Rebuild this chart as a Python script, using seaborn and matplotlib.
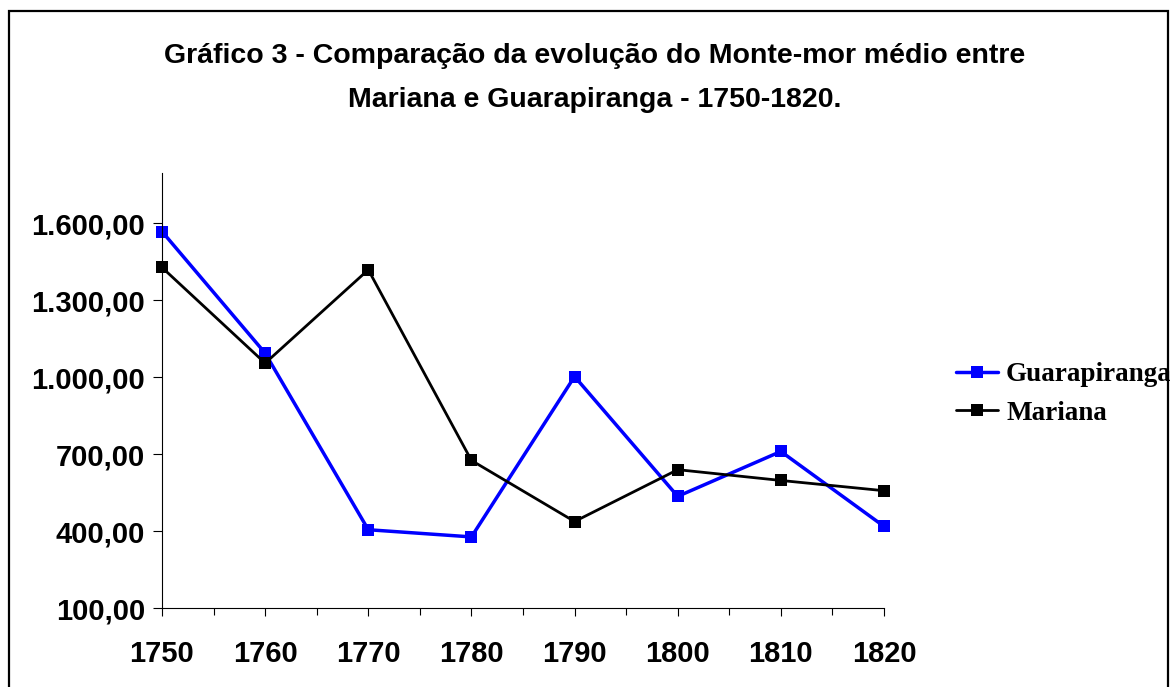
import pandas as pd
import numpy as np
import matplotlib
matplotlib.use("Agg")
import matplotlib.pyplot as plt
import matplotlib.ticker as mticker
from matplotlib.patches import Rectangle
import seaborn as sns

# data
anos = [1750, 1760, 1770, 1780, 1790, 1800, 1810, 1820]
guarapiranga = [1567, 1093, 405, 377, 1002, 535, 710, 418]
mariana = [1427, 1054, 1418, 675, 437, 639, 597, 557]
series = ["Guarapiranga", "Mariana"]
cores = ["#0000FF", "#000000"]
y_ticks = [100, 400, 700, 1000, 1300, 1600]

df = pd.DataFrame({
    "Ano": anos * 2,
    "Valor": guarapiranga + mariana,
    "Serie": [series[0]] * len(anos) + [series[1]] * len(anos),
})

sns.set_theme(style="white")
plt.rcParams['font.family'] = ['Liberation Sans', 'DejaVu Sans']
plt.rcParams['text.color'] = 'black'

fig = plt.figure(figsize=(11.7, 6.87), dpi=100)
ax = fig.add_axes([162 / 1170, 1 - 608 / 687, (884 - 162) / 1170, (608 - 173) / 687])

sns.lineplot(data=df, x="Ano", y="Valor", hue="Serie", style="Serie",
             hue_order=series, palette=cores, markers=["s", "s"], dashes=False,
             linewidth=2.2, markersize=8, markeredgewidth=0, ax=ax, legend=True)
for ln in ax.lines:
    ln.set_clip_on(False)
    # blue series drawn a bit heavier, as in the original
    if ln.get_color() in ("#0000FF", "#0000ff"):
        ln.set_linewidth(2.5)
    else:
        ln.set_linewidth(2.0)

ax.set_xlim(1750, 1820)
ax.set_ylim(100, 1795)
ax.set_xticks(anos)
ax.set_xticks([a + 5 for a in anos[:-1]], minor=True)
ax.set_yticks(y_ticks)
ax.yaxis.set_major_formatter(mticker.FuncFormatter(
    lambda v, p: f"{v:,.2f}".replace(",", "X").replace(".", ",").replace("X", ".")))

for lab in ax.get_xticklabels() + ax.get_yticklabels():
    lab.set_fontweight("bold")
    lab.set_fontsize(21)
    lab.set_color("black")

ax.tick_params(axis="y", which="major", direction="out", length=6.5, width=0.8,
               color="black", left=True, pad=5.5)
ax.tick_params(axis="x", which="major", direction="out", length=6, width=0.8,
               color="black", bottom=True, pad=17)
ax.tick_params(axis="x", which="minor", direction="out", length=5, width=0.8,
               color="black", bottom=True)

for s in ["top", "right"]:
    ax.spines[s].set_visible(False)
for s in ["left", "bottom"]:
    ax.spines[s].set_color("black")
    ax.spines[s].set_linewidth(0.8)
ax.set_xlabel("")
ax.set_ylabel("")
ax.grid(False)

# legend at the right
handles, labels = ax.get_legend_handles_labels()
ax.get_legend().remove()
leg = fig.legend(handles, labels, loc="center left",
                 bbox_to_anchor=(956 / 1170, 1 - 394 / 687),
                 frameon=False, borderpad=0, borderaxespad=0,
                 handlelength=1.55, handletextpad=0.3, labelspacing=0.5,
                 prop={"family": "Liberation Serif", "weight": "bold", "size": 19.5})
for t in leg.get_texts():
    t.set_color("black")
for h in leg.legend_handles:
    h.set_linewidth(2.5 if h.get_color() in ("#0000FF", "#0000ff") else 2.0)

fig.text(595 / 1170, 1 - 78 / 687,
         "Gráfico 3 - Comparação da evolução do Monte-mor médio entre\nMariana e Guarapiranga - 1750-1820.",
         ha="center", va="center", fontsize=20.5, fontweight="bold", linespacing=1.9,
         color="black")

# border around the chart area
fig.add_artist(Rectangle((9 / 1170, -0.02), (1168 - 9) / 1170, (1 - 11 / 687) + 0.02,
                         transform=fig.transFigure, fill=False,
                         edgecolor="black", linewidth=1.6))

fig.savefig("out.png", dpi=100)
